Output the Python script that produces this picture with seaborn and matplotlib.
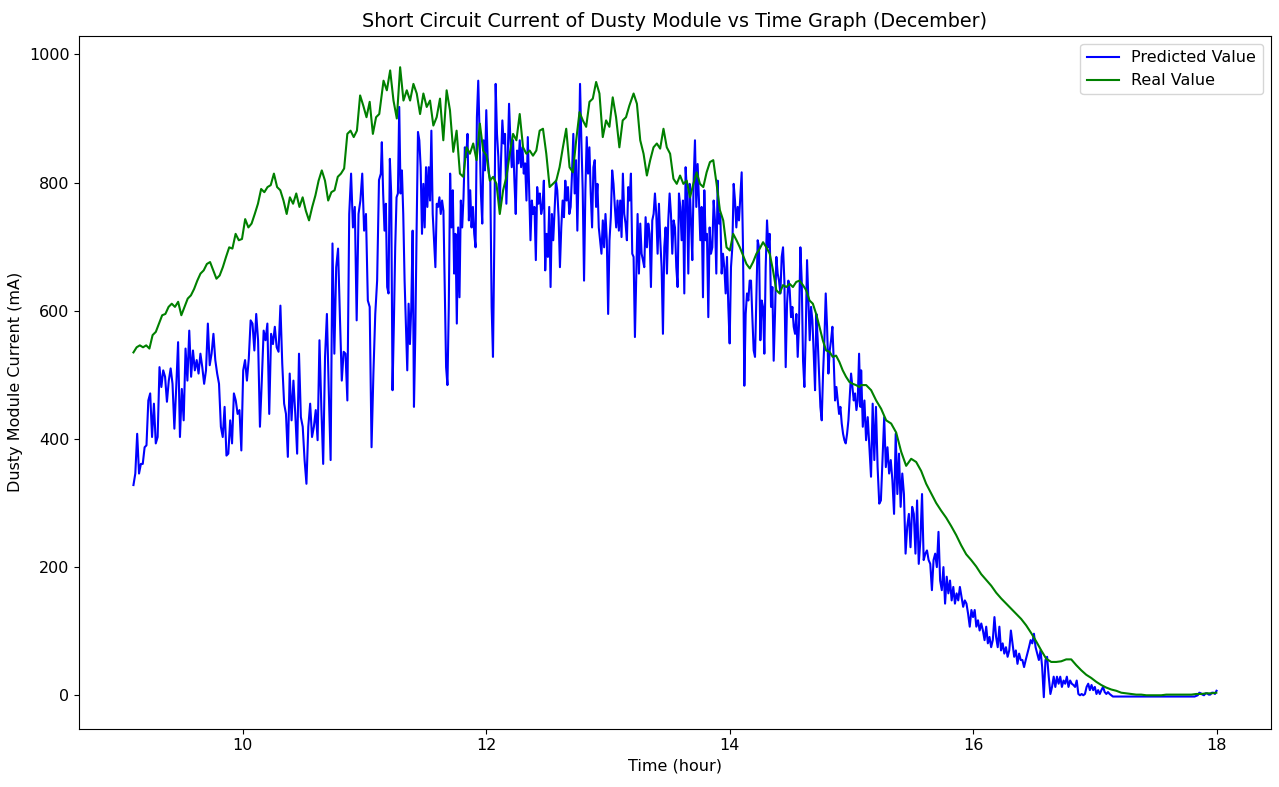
import numpy as np
import pandas as pd
import matplotlib
matplotlib.use("Agg")
import matplotlib.pyplot as plt
import seaborn as sns

# ---- Data (hours, mA) ----
# Predicted values, recorded in consecutive blocks (start hour, end hour)
pred_spans = [(9.104, 11.136), (11.144, 13.190), (13.201, 15.075), (15.081, 17.149), (17.820, 18.000)]
pred_a = [328, 346, 408, 346, 361, 361, 387, 390, 460, 471, 403, 455, 393, 403, 512, 481, 507, 497, 458, 491,
          510, 486, 416, 481, 551, 403, 478, 429, 541, 491, 569, 497, 538, 507, 523, 502, 533, 512, 486, 507,
          580, 515, 533, 564, 523, 502, 486, 419, 403, 450, 374, 377, 429, 393, 471, 460, 439, 445, 382, 507,
          523, 491, 525, 585, 580, 538, 595, 554, 419, 491, 569, 554, 580, 439, 564, 548, 575, 543, 536, 608,
          517, 455, 439, 372, 502, 429, 491, 439, 377, 533, 434, 419, 367, 330, 419, 455, 403, 419, 445, 398,
          554, 450, 361, 528, 595, 476, 367, 705, 533, 668, 697, 590, 491, 536, 533, 460, 751, 814, 730, 762,
          585, 751, 772, 814, 725, 751, 616, 606, 387, 502, 595, 647, 804, 814]
pred_b = [863, 783, 725, 767, 637, 627, 837, 783, 476, 580, 699, 777, 783, 918, 783, 819, 751, 647, 575, 507,
          611, 548, 606, 725, 450, 564, 730, 879, 866, 824, 720, 798, 730, 824, 762, 824, 772, 881, 751, 710,
          668, 767, 762, 777, 751, 772, 756, 632, 512, 484, 606, 814, 730, 788, 658, 720, 580, 730, 621, 772,
          730, 777, 855, 840, 876, 741, 788, 730, 762, 720, 699, 902, 959, 876, 783, 736, 866, 819, 913, 840,
          814, 803, 606, 528, 710, 954, 876, 840, 762, 835, 897, 861, 876, 767, 840, 923, 866, 824, 866, 803,
          751, 850, 830, 866, 824, 855, 814, 830, 772, 871, 793, 710, 772, 751, 762, 679, 793, 767, 783, 751,
          762, 803, 663, 720, 684, 762, 637, 751, 710, 756, 803, 788, 746, 668, 730, 772, 746, 803, 772, 793,
          751, 762, 814, 876, 783, 835, 725, 824, 954, 866, 788, 647, 788, 871, 814, 855, 783, 730, 824, 835,
          762, 798, 730, 710, 689, 741, 699, 751, 710, 595, 710, 746, 819, 798, 762, 730, 772, 725, 772, 715,
          814, 751, 736, 710, 793, 772, 814]
pred_c = [689, 684, 559, 658, 751, 658, 736, 689, 679, 668, 746, 699, 736, 720, 637, 741, 751, 783, 751, 689,
          767, 710, 668, 564, 699, 730, 658, 741, 783, 751, 689, 741, 730, 668, 637, 783, 762, 710, 772, 627,
          824, 783, 658, 798, 741, 679, 803, 866, 762, 829, 772, 710, 762, 621, 788, 710, 720, 590, 730, 689,
          699, 772, 741, 658, 803, 736, 751, 658, 689, 668, 627, 684, 606, 549, 668, 699, 798, 772, 730, 762,
          741, 777, 816, 699, 483, 595, 627, 616, 647, 647, 590, 538, 528, 621, 710, 699, 554, 616, 606, 533,
          668, 741, 699, 720, 606, 637, 522, 595, 684, 658, 647, 627, 684, 699, 647, 512, 611, 647, 632, 590,
          606, 575, 564, 595, 528, 580, 699, 647, 522, 481, 564, 679, 616, 554, 606, 585, 533, 476, 595, 554,
          502, 450, 429, 502, 554, 627, 575, 502, 538, 554, 575, 522, 460, 481, 460, 439, 450, 424, 408, 398,
          393, 408, 429, 465, 502, 481, 460, 471, 445, 460, 533, 450]
pred_d = [507, 419, 460, 398, 434, 387, 341, 455, 367, 450, 356, 299, 304, 367, 434, 356, 387, 346, 367, 335,
          283, 408, 314, 377, 294, 346, 314, 221, 263, 283, 231, 294, 283, 221, 304, 205, 242, 314, 211, 221,
          226, 211, 205, 164, 211, 221, 200, 255, 179, 164, 200, 143, 185, 159, 179, 148, 169, 143, 159, 148,
          169, 153, 138, 148, 143, 127, 107, 133, 122, 133, 107, 117, 101, 112, 101, 86, 107, 81, 91, 75,
          86, 122, 91, 75, 107, 70, 81, 65, 75, 60, 70, 101, 81, 60, 70, 49, 65, 55, 55, 44,
          55, 65, 75, 86, 81, 96, 75, 65, 55, 70, 44, -3, 55, 60, 29, 2, 13, 29, 13, 29,
          18, 29, 13, 23, 18, 29, 13, 23, 18, 16, 13, 23, 2, 0, 2, 0, 2, 13, 18, 8,
          16, 8, 13, 2, 8, 2, 8, 13, 5, 2, 5, 2, 0, -2]
pred_e = [-2, -1, 0, 4, 3, 1, 0, 3, 3, 1, 1, 4, 4, 2, 7]

# Real values, recorded in consecutive blocks (start hour, end hour)
real_spans = [(9.104, 11.123), (11.158, 13.177), (13.212, 15.066), (15.081, 17.998)]
real_a = [535, 543, 546, 543, 546, 541, 562, 567, 580, 593, 595, 606, 611, 606, 614, 593, 606, 619, 624, 634,
          647, 658, 663, 673, 676, 663, 650, 655, 668, 684, 699, 697, 720, 710, 712, 743, 730, 736, 751, 767,
          790, 785, 793, 796, 814, 793, 788, 772, 751, 777, 767, 783, 762, 777, 756, 741, 762, 780, 803, 819,
          803, 772, 785, 788, 809, 814, 822, 876, 881, 871, 881, 936, 920, 902, 926, 876, 902, 907]
real_b = [959, 944, 975, 928, 900, 980, 928, 944, 928, 954, 939, 907, 939, 918, 928, 889, 902, 931, 866, 944,
          913, 848, 881, 814, 809, 855, 845, 861, 835, 892, 850, 842, 803, 809, 798, 751, 788, 809, 845, 876,
          866, 907, 855, 845, 850, 842, 850, 881, 884, 845, 793, 798, 803, 824, 855, 884, 824, 816, 866, 910,
          897, 887, 926, 931, 957, 939, 871, 897, 887, 933, 902, 855, 897, 902, 920]
real_c = [939, 923, 866, 845, 811, 835, 855, 861, 853, 884, 855, 845, 806, 798, 811, 798, 803, 777, 798, 816,
          798, 793, 816, 832, 835, 798, 757, 741, 699, 694, 720, 710, 699, 686, 673, 666, 676, 689, 697, 707,
          699, 689, 663, 632, 627, 640, 637, 642, 637, 645, 647, 640, 632, 616, 611, 595, 575, 554, 538, 536,
          528, 530, 520, 507, 497, 489, 486, 484, 481]
real_d = [484, 484, 476, 460, 447, 429, 424, 410, 380, 358, 369, 364, 350, 330, 315, 300, 288, 277, 264, 250,
          234, 220, 211, 201, 189, 180, 171, 160, 151, 143, 135, 127, 119, 109, 97, 84, 70, 57, 52, 52,
          53, 56, 56, 47, 39, 32, 27, 21, 16, 12, 9, 7, 4, 3, 2, 1, 1, 0, 0, 0,
          0, 1, 1, 1, 1, 1, 1, 2, 2, 3, 3, 4]


def build(spans, blocks, name):
    frames = []
    for (t0, t1), vals in zip(spans, blocks):
        frames.append(pd.DataFrame({"time": np.linspace(t0, t1, len(vals)), "value": vals}))
    df = pd.concat(frames, ignore_index=True)
    df["series"] = name
    return df


pred_df = build(pred_spans, [pred_a, pred_b, pred_c, pred_d, pred_e], "Predicted Value")
real_df = build(real_spans, [real_a, real_b, real_c, real_d], "Real Value")

# ---- Plot ----
fig = plt.figure(figsize=(12.79, 7.87), dpi=100)
ax = fig.add_axes([0.062, 0.0741, 0.9315, 0.8805])

sns.lineplot(data=pred_df, x="time", y="value", color="blue", label="Predicted Value",
             estimator=None, sort=False, ax=ax, linewidth=1.5)
sns.lineplot(data=real_df, x="time", y="value", color="green", label="Real Value",
             estimator=None, sort=False, ax=ax, linewidth=1.5)

ax.set_xticks([10, 12, 14, 16, 18])
ax.set_yticks([0, 200, 400, 600, 800, 1000])
ax.tick_params(labelsize=11.5)
ax.set_xlabel("Time (hour)", fontsize=11.5)
ax.set_ylabel("Dusty Module Current (mA)", fontsize=11.5)
ax.set_title("Short Circuit Current of Dusty Module vs Time Graph (December)", fontsize=13.8)
ax.legend(loc="upper right", fontsize=11.5)

fig.savefig("out.png", dpi=100)
